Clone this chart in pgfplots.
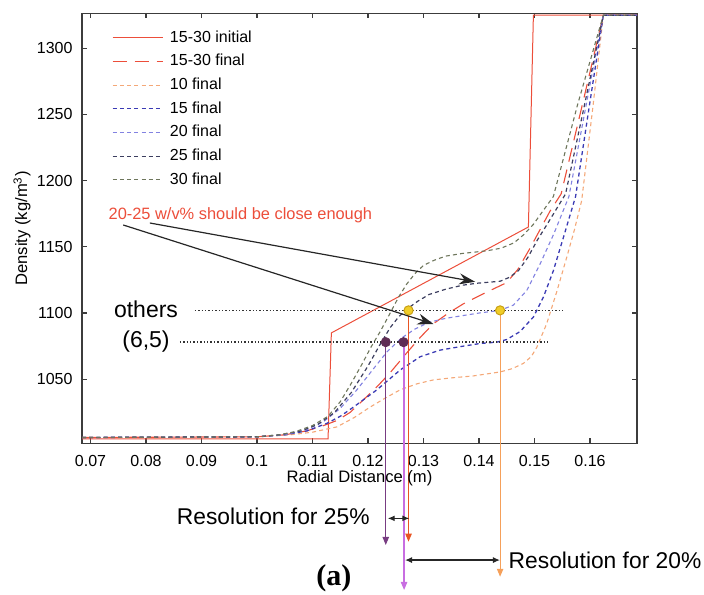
\documentclass[border=0pt]{standalone}
\usepackage{fontspec}
\setmainfont{Liberation Sans}
\newfontfamily\timesfont{Liberation Serif}
\usepackage{pgfplots}
\pgfplotsset{compat=1.18}
\usetikzlibrary{arrows.meta}
\definecolor{redc}{RGB}{236,78,58}
\definecolor{orc}{RGB}{244,168,120}
\definecolor{bluec}{RGB}{58,58,180}
\definecolor{lbluec}{RGB}{130,130,225}
\definecolor{navyc}{RGB}{60,62,95}
\definecolor{grayc}{RGB}{110,118,92}
\definecolor{axisgray}{RGB}{60,60,60}
\definecolor{dpurple}{RGB}{120,60,130}
\definecolor{violetc}{RGB}{200,110,225}
\definecolor{vred}{RGB}{232,85,35}
\definecolor{vorange}{RGB}{245,160,90}
\definecolor{yellowc}{RGB}{240,205,40}
\definecolor{yellowd}{RGB}{200,160,20}
\definecolor{purpdot}{RGB}{95,45,85}
\begin{document}
\begin{tikzpicture}
\path[use as bounding box] (-41pt,-75.35pt) rectangle (311pt,221.65pt);
\begin{axis}[
  at={(0pt,0pt)}, anchor=south west,
  scale only axis, width=277.5pt, height=215pt,
  xmin=0.068468, xmax=0.168468, ymin=1001.6, ymax=1326.4,
  clip=false,
  axis line style={draw=axisgray, line width=0.7pt},
  tick style={draw=axisgray, line width=0.6pt},
  major tick length=2.5pt,
  tick align=inside,
  xtick={0.07,0.08,0.09,0.1,0.11,0.12,0.13,0.14,0.15,0.16},
  xticklabels={0.07,0.08,0.09,0.1,0.11,0.12,0.13,0.14,0.15,0.16},
  ytick={1050,1100,1150,1200,1250,1300},
  yticklabels={1050,1100,1150,1200,1250,1300},
  /pgf/number format/assume math mode=true,
  ticklabel style={font=\fontsize{8}{9.6}\selectfont},
  xticklabel style={yshift=-2.5pt},
  yticklabel style={xshift=-1.2pt},
  xlabel={Radial Distance (m)},
  ylabel={Density (kg/m\textsuperscript{3})},
  label style={font=\fontsize{8.3}{10}\selectfont},
  xlabel style={at={(axis description cs:0.5,-0.0807)}, anchor=center},
  ylabel style={at={(axis description cs:-0.108,0.5)}, anchor=center},
  legend style={draw=none, fill=none, at={(rel axis cs:0.0535,0.962)}, anchor=north west,
    inner sep=0pt, row sep=4.15pt, column sep=3.3pt,
    font=\fontsize{8}{9.6}\selectfont,
    nodes={inner sep=0pt, text height=6pt, text depth=1.7pt}},
  legend cell align=left,
  legend image code/.code={\draw[#1] (0pt,0pt) -- (25pt,0pt);},
]
% 15-30 initial
\addplot[redc, line width=0.5pt] coordinates {
(0.06847,1005) (0.1128,1005) (0.1134,1085) (0.1489,1165) (0.1498,1325) (0.16847,1325)};
\addlegendentry{15-30 initial}
% 15-30 final
\addplot[redc, line width=0.55pt, dash pattern=on 7pt off 4pt] coordinates {
(0.06847,1006) (0.100,1006.5) (0.105,1008) (0.109,1011) (0.112,1015) (0.1145,1019) (0.1168,1025)
(0.1198,1037) (0.122,1046) (0.124,1055) (0.127,1070) (0.1295,1082) (0.1318,1092) (0.1345,1100)
(0.1372,1107) (0.141,1115) (0.145,1123) (0.147,1133) (0.1492,1149) (0.151,1163) (0.1528,1177)
(0.1548,1190) (0.1586,1257) (0.1624,1325) (0.16847,1325)};
\addlegendentry{15-30 final}
% 10 final
\addplot[orc, line width=0.55pt, dash pattern=on 2pt off 1.6pt] coordinates {
(0.06847,1006) (0.100,1006.5) (0.106,1008) (0.110,1010) (0.1144,1014) (0.1175,1021) (0.1204,1029)
(0.1232,1036) (0.1258,1042) (0.1288,1046.5) (0.1318,1049.5) (0.135,1051) (0.139,1052.5) (0.1438,1055.5)
(0.146,1058) (0.148,1062) (0.1494,1067) (0.1504,1074) (0.1522,1092) (0.154,1116) (0.1558,1142)
(0.1572,1163) (0.1585,1185) (0.1605,1255) (0.1624,1325) (0.16847,1325)};
\addlegendentry{10 final}
% 15 final
\addplot[bluec, line width=0.65pt, dash pattern=on 2pt off 1.6pt] coordinates {
(0.06847,1006) (0.100,1006.5) (0.105,1008) (0.109,1011) (0.1126,1016.7) (0.115,1022) (0.1174,1029)
(0.1216,1042) (0.1258,1057) (0.1294,1067) (0.133,1072) (0.1366,1074.6) (0.1402,1077) (0.1432,1078)
(0.145,1080) (0.1474,1086) (0.1498,1097) (0.1516,1112) (0.1534,1132) (0.1552,1157) (0.1574,1188)
(0.1599,1257) (0.1624,1325) (0.16847,1325)};
\addlegendentry{15 final}
% 20 final
\addplot[lbluec, line width=0.55pt, dash pattern=on 2pt off 1.6pt] coordinates {
(0.06847,1006) (0.100,1006.5) (0.105,1008) (0.109,1012) (0.112,1018) (0.115,1028) (0.118,1042)
(0.121,1058) (0.1235,1071) (0.126,1081) (0.1285,1088) (0.131,1093) (0.134,1096) (0.137,1098)
(0.140,1100) (0.1438,1102) (0.1462,1106) (0.1486,1117) (0.151,1137) (0.1535,1160) (0.1562,1188)
(0.1593,1257) (0.1624,1325) (0.16847,1325)};
\addlegendentry{20 final}
% 25 final
\addplot[navyc, line width=0.6pt, dash pattern=on 2pt off 1.6pt] coordinates {
(0.06847,1006) (0.100,1006.5) (0.104,1008) (0.108,1011) (0.111,1016) (0.114,1025) (0.117,1040)
(0.120,1060) (0.122,1075) (0.124,1089) (0.1255,1097) (0.127,1103) (0.129,1109) (0.131,1114)
(0.134,1118) (0.137,1121) (0.1396,1122.5) (0.1438,1124) (0.1455,1127) (0.1471,1132) (0.1488,1142)
(0.1505,1155) (0.153,1172) (0.1556,1190) (0.159,1257) (0.1624,1325) (0.16847,1325)};
\addlegendentry{25 final}
% 30 final
\addplot[grayc, line width=0.55pt, dash pattern=on 2pt off 1.6pt] coordinates {
(0.06847,1006) (0.100,1006.5) (0.104,1008) (0.107,1010.5) (0.110,1015) (0.1128,1022) (0.115,1033)
(0.117,1047) (0.119,1062) (0.1205,1074) (0.1222,1086) (0.124,1100) (0.1255,1112) (0.127,1122)
(0.1285,1130) (0.130,1136) (0.132,1140) (0.134,1143) (0.137,1145) (0.1414,1147) (0.144,1149)
(0.1463,1153) (0.148,1159) (0.1498,1167) (0.1515,1177) (0.1534,1188) (0.1578,1258) (0.1624,1325)
(0.16847,1325)};
\addlegendentry{30 final}
% horizontal reference lines
\addplot[forget plot, black!80, line width=0.7pt, densely dotted] coordinates {(0.0888,1102) (0.1553,1102)};
\addplot[forget plot, black!80, line width=0.7pt, densely dotted] coordinates {(0.0861,1078) (0.1528,1078)};
% vertical drop lines
\addplot[forget plot, dpurple, line width=0.6pt, -{Triangle[length=4pt,width=3.2pt]}] coordinates {(0.1232,1078) (0.1232,924.8)};
\addplot[forget plot, violetc, line width=0.6pt, -{Triangle[length=4pt,width=3.2pt]}] coordinates {(0.1265,1078) (0.1265,890.8)};
\addplot[forget plot, vred, line width=0.6pt, -{Triangle[length=4pt,width=3.2pt]}] coordinates {(0.1273,1102) (0.1273,927.3)};
\addplot[forget plot, vorange, line width=0.6pt, -{Triangle[length=4pt,width=3.2pt]}] coordinates {(0.1438,1102) (0.1438,900.8)};
% dots
\addplot[forget plot, only marks, mark=*, mark size=2.3pt, mark options={fill=yellowc, draw=yellowd, line width=0.5pt}] coordinates {(0.1273,1102) (0.1438,1102)};
\addplot[forget plot, only marks, mark=*, mark size=2.3pt, mark options={fill=purpdot, draw=purpdot}] coordinates {(0.1232,1078) (0.1264,1078)};
% annotation arrows
\draw[-{Stealth[length=8pt,width=5.5pt]}, line width=0.6pt, black!85] (axis cs:0.0807,1168) -- (axis cs:0.1393,1123.6);
\draw[-{Stealth[length=8pt,width=5.5pt]}, line width=0.6pt, black!85] (axis cs:0.0759,1166.5) -- (axis cs:0.1318,1091.7);
\node[anchor=west, text=redc, font=\fontsize{8.2}{10}\selectfont, inner sep=0pt] at (axis cs:0.0732,1174) {20-25 w/v\% should be close enough};
\node[font=\fontsize{11.5}{13}\selectfont, inner sep=0pt] at (axis cs:0.08,1103) {others};
\node[font=\fontsize{11.5}{13}\selectfont, inner sep=0pt] at (axis cs:0.08,1078.3) {(6,5)};
% resolution arrows
\draw[{Latex[length=3.5pt,width=3pt]}-{Latex[length=3.5pt,width=3pt]}, line width=0.6pt, black!85] (axis cs:0.12355,944.9) -- (axis cs:0.12744,944.9);
\draw[{Latex[length=3.5pt,width=3pt]}-{Latex[length=3.5pt,width=3pt]}, line width=0.6pt, black!85] (axis cs:0.12667,913.4) -- (axis cs:0.14378,913.4);
\node[anchor=east, font=\fontsize{11.4}{13}\selectfont, inner sep=0pt] at (axis cs:0.12036,946.3) {Resolution for 25\%};
\node[anchor=west, font=\fontsize{11.4}{13}\selectfont, inner sep=0pt] at (axis cs:0.14528,913.4) {Resolution for 20\%};
\node[font=\timesfont\bfseries\fontsize{15}{17}\selectfont, inner sep=0pt] at (axis cs:0.11387,899.8) {(a)};
\end{axis}
\end{tikzpicture}
\end{document}
